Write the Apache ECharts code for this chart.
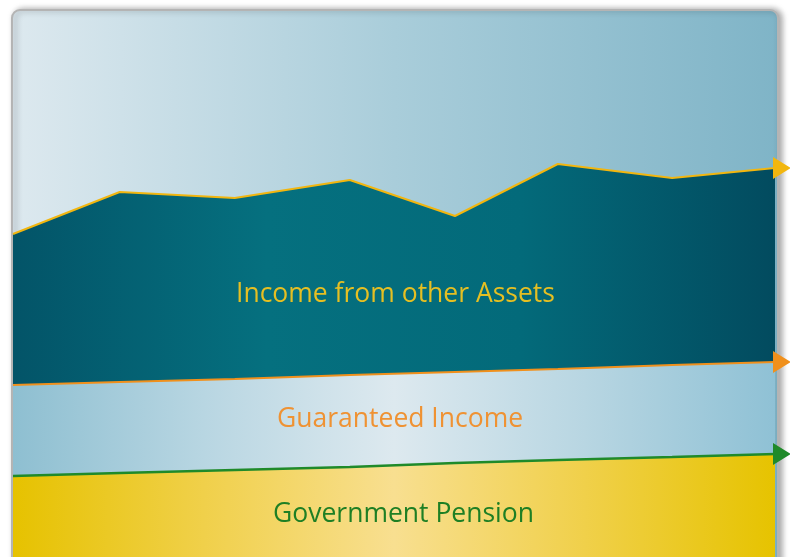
<!DOCTYPE html>
<html><head><meta charset="utf-8">
<script src="https://cdn.jsdelivr.net/npm/echarts@6/dist/echarts.min.js"></script>
<style>html,body{margin:0;padding:0;background:#fff;}#c{width:790px;height:557px;}</style>
</head><body><div id="c"></div>
<script>
const xPositions = [0, 14, 29.1, 44.2, 58, 71.5, 86.5, 100];
const pension    = [81, 84, 87, 90, 94, 97, 100, 103];
const guaranteed = [91, 91, 91, 92, 91, 91, 92, 92];
const otherAssets= [151, 190, 181, 195, 156, 205, 187, 194];
const seriesNames = ['Government Pension','Guaranteed Income','Income from other Assets'];
const lineColors = ['#1f8a2a','#f0901c','#f2b60f'];

// cumulative tops (stacked)
const topPension = pension.slice();
const topGuaranteed = pension.map((v,i)=> v + guaranteed[i]);
const topAssets = topGuaranteed.map((v,i)=> v + otherAssets[i]);

function lg(stops){ return new echarts.graphic.LinearGradient(0,0,1,0, stops.map((c,i)=>({offset:i/(stops.length-1), color:c}))); }

function withArrow(arr, color){
  return arr.map((v,i)=> {
    const pt = [xPositions[i], v];
    return i===arr.length-1 ? {value:pt, symbol:'triangle', symbolSize:[22,18], symbolRotate:-90, symbolOffset:[7,0], itemStyle:{color:color}} : pt;
  });
}

const chart = echarts.init(document.getElementById('c'));
chart.setOption({
  animation:false,
  grid:{left:13, right:15, top:10, bottom:0},
  xAxis:{type:'value', min:0, max:100, show:false},
  yAxis:{type:'value', min:0, max:547, show:false},
  graphic:[
    {type:'rect', z:0, shape:{x:12,y:10,width:766,height:570,r:8},
     style:{fill:lg(['#dde9ef','#a9cdda','#7fb4c7']), stroke:'#b4b4b4', lineWidth:2,
            shadowBlur:6, shadowOffsetX:3, shadowOffsetY:0, shadowColor:'rgba(0,0,0,0.35)'}},
    {type:'text', z:100, left:236, top:281, style:{text:'Income from other Assets', fill:'#e6bf22', font:'26.5px "Open Sans"'}},
    {type:'text', z:100, left:277, top:406, style:{text:'Guaranteed Income', fill:'#ef9233', font:'26.5px "Open Sans"'}},
    {type:'text', z:100, left:273, top:501, style:{text:'Government Pension', fill:'#1e7f24', font:'26.5px "Open Sans"'}}
  ],
  series:[
    {name:seriesNames[2], type:'line', z:3, symbol:'none', showSymbol:true, clip:false,
     data:withArrow(topAssets, lineColors[2]),
     lineStyle:{color:lineColors[2], width:2},
     areaStyle:{opacity:1, origin:'start', color:lg(['#035468','#05707f','#036a7a','#024b5f'])}},
    {name:seriesNames[1], type:'line', z:4, symbol:'none', showSymbol:true, clip:false,
     data:withArrow(topGuaranteed, lineColors[1]),
     lineStyle:{color:lineColors[1], width:2},
     areaStyle:{opacity:1, origin:'start', color:lg(['#8ebfd1','#b8d6e2','#dde9ef','#b8d6e2','#8fc1d5'])}},
    {name:seriesNames[0], type:'line', z:5, symbol:'none', showSymbol:true, clip:false,
     data:withArrow(topPension, lineColors[0]),
     lineStyle:{color:lineColors[0], width:2.5},
     areaStyle:{opacity:1, origin:'start', color:lg(['#e6c200','#f0d04a','#f8df90','#f0d04a','#e6c300'])}}
  ]
});
</script></body></html>
